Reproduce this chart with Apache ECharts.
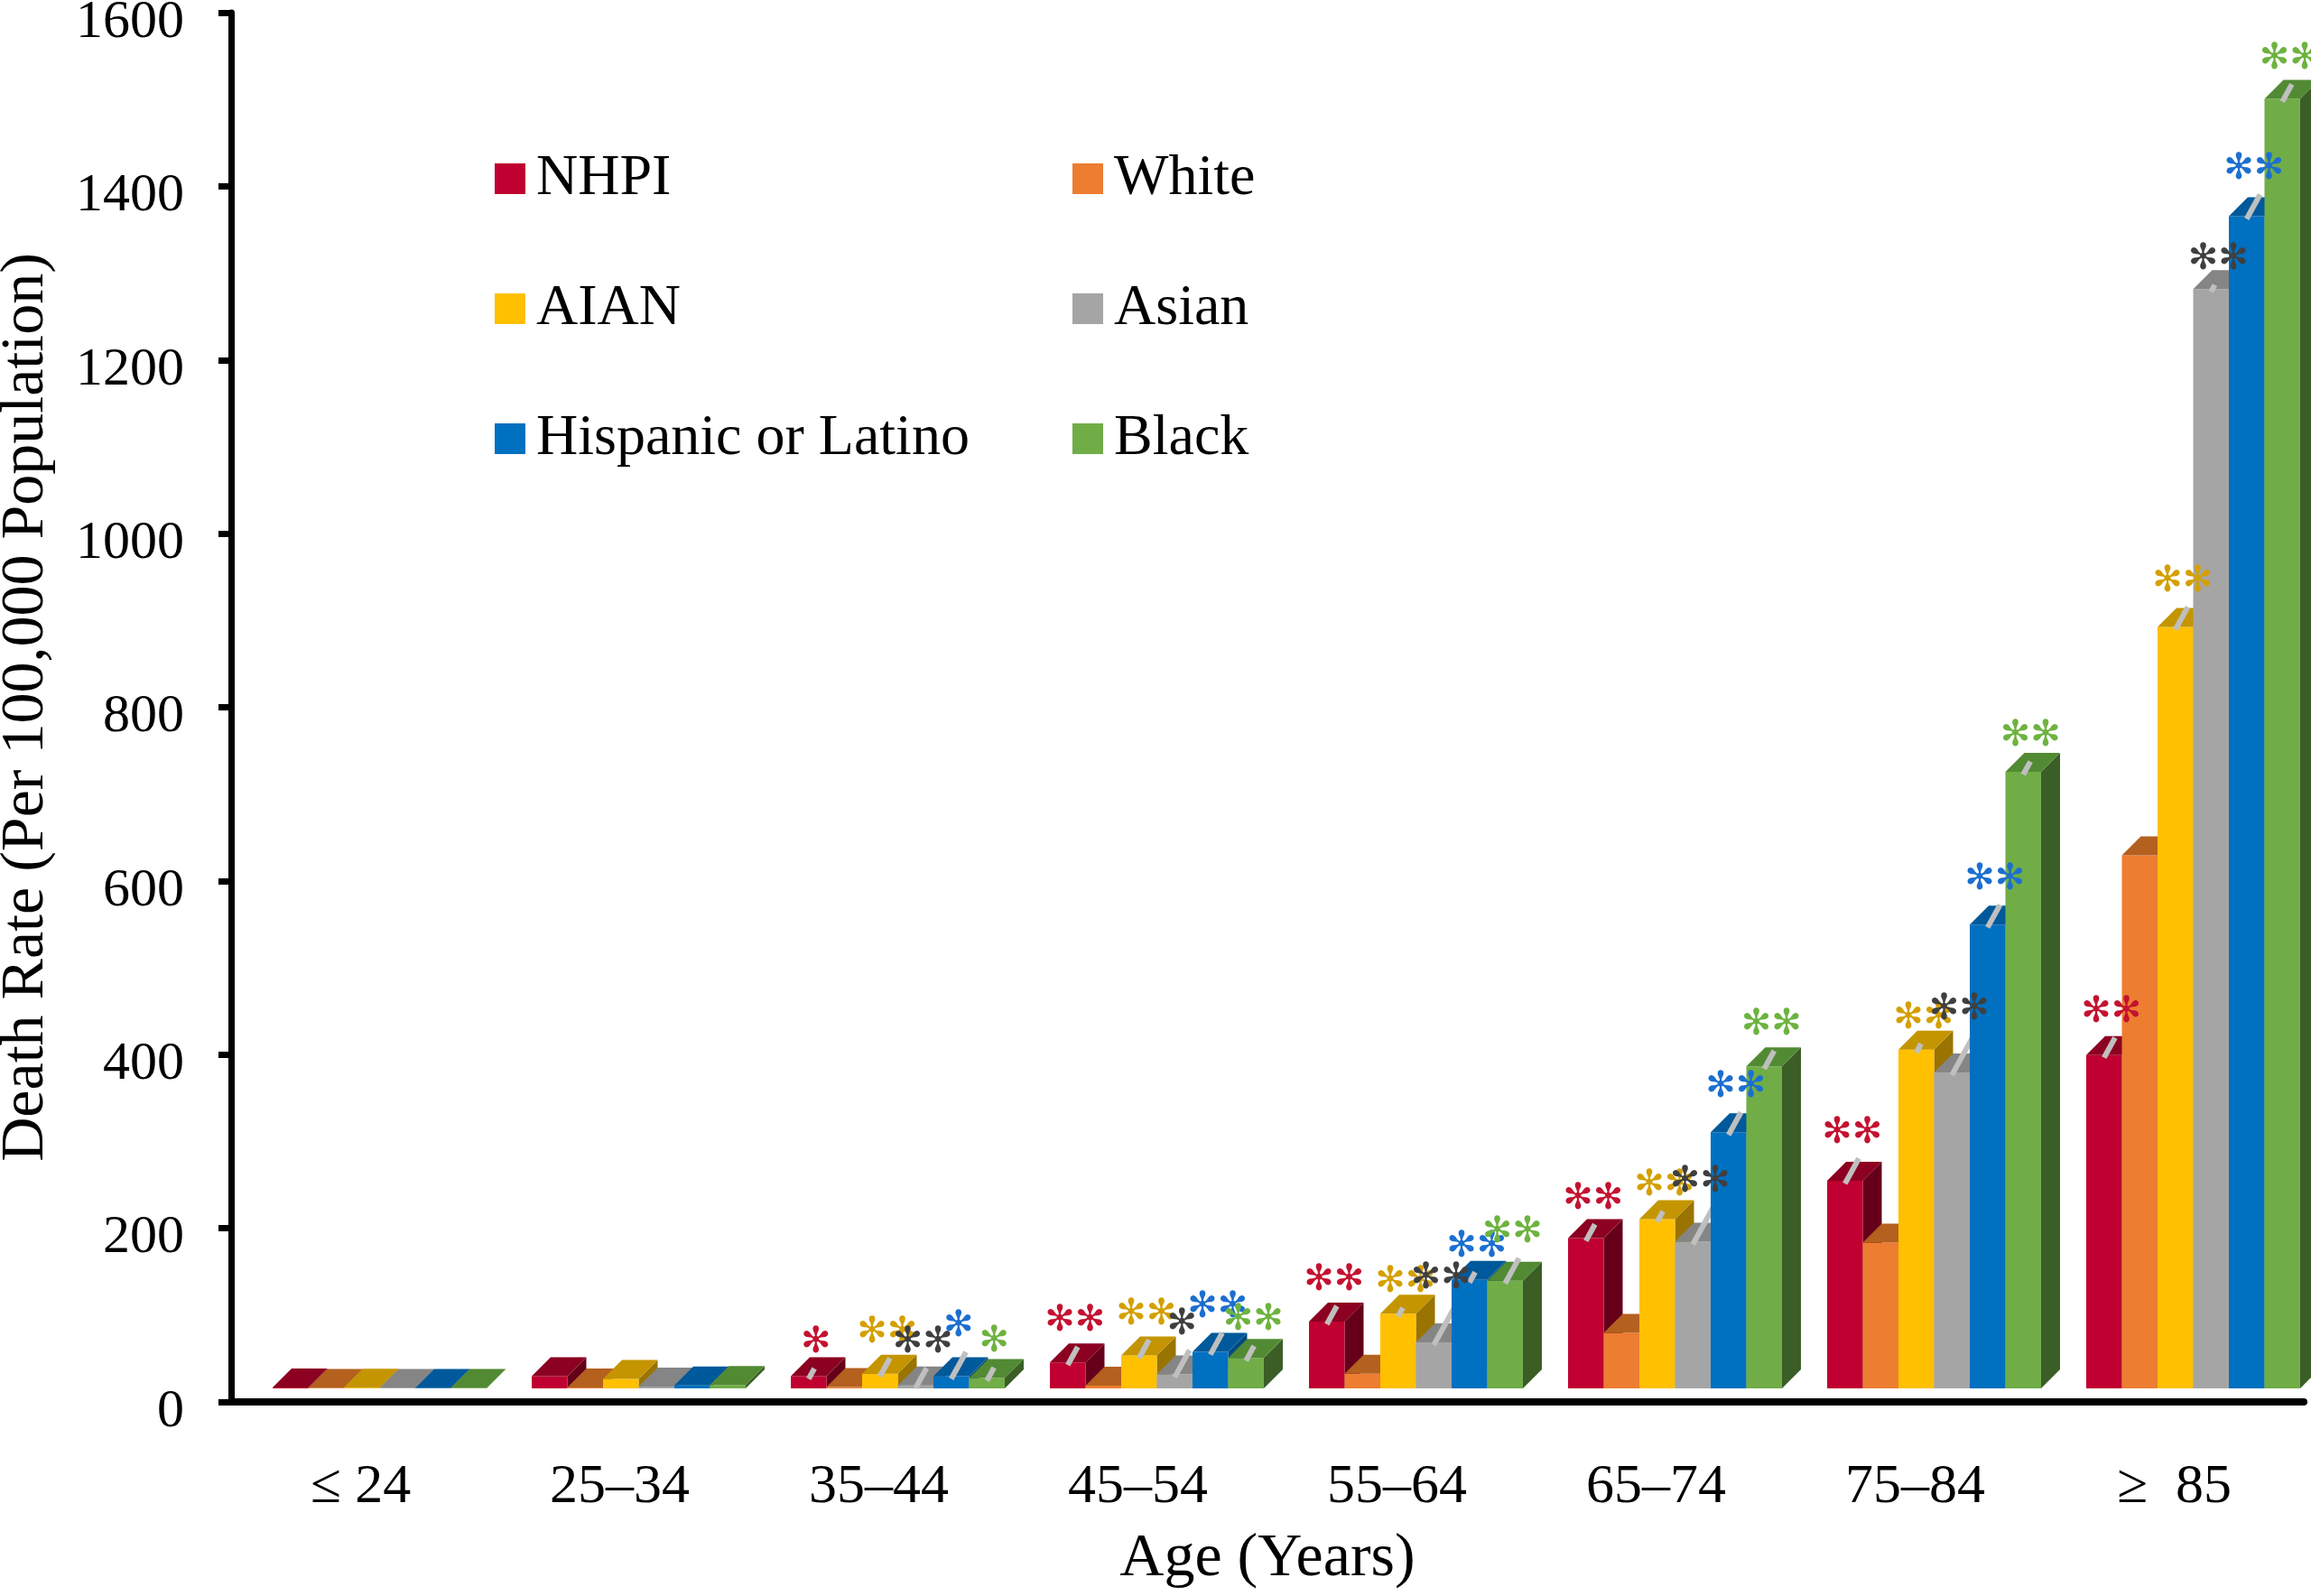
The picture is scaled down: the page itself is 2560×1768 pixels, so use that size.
<!DOCTYPE html>
<html>
<head>
<meta charset="utf-8">
<script src="https://cdn.jsdelivr.net/npm/echarts@6/dist/echarts.min.js"></script>
<style>
  html, body { margin: 0; padding: 0; background: #fff; }
  #chart { width: 2560px; height: 1768px; }
</style>
</head>
<body>
<div id="chart"></div>
<script>
// ---------------- DATA ----------------
const categories = ['≤ 24', '25–34', '35–44', '45–54', '55–64', '65–74', '75–84', '≥  85'];
const seriesNames = ['NHPI', 'White', 'AIAN', 'Asian', 'Hispanic or Latino', 'Black'];

// Death rate per 100,000 population
const nhpi     = [1,   14,  14,  30,  77, 173, 239,  384];
const white    = [0.5,  1, 1.5,   3,  17,  64, 168,  614];
const aian     = [0.8, 11,  17,  38,  86, 195, 390,  877];
const asian    = [0.4,  2, 3.5,  16,  53, 169, 364, 1266];
const hispanic = [0.6, 3.5, 14,  42, 125, 295, 534, 1350];
const black    = [0.5,  4,  12,  35, 124, 371, 710, 1485];

// upper error (visible part of error bar), same units
const nhpiErr     = [0, 0, 12, 21, 21, 19, 29, 23];
const whiteErr    = [0, 0, 0, 0, 0, 0, 0, 0];
const aianErr     = [0, 0, 21, 21, 10, 12, 10, 26];
const asianErr    = [0, 0, 23, 31, 47, 42, 46, 8];
const hispanicErr = [0, 0, 31, 25, 12, 26, 26, 28];
const blackErr    = [0, 0, 15, 17, 29, 21, 15, 20];

// significance marks
const nhpiSig     = ['', '', '*',  '**', '**', '**', '**', '**'];
const whiteSig    = ['', '', '',   '',   '',   '',   '',   ''];
const aianSig     = ['', '', '**', '**', '**', '**', '**', '**'];
const asianSig    = ['', '', '**', '*',  '**', '**', '**', '**'];
const hispanicSig = ['', '', '*',  '**', '**', '**', '**', '**'];
const blackSig    = ['', '', '*',  '**', '**', '**', '**', '**'];

const yMin = 0, yMax = 1600, yInterval = 200;

// ---------------- STYLE ----------------
const FONT = '"Liberation Serif", "Times New Roman", serif';
const STAR_FONT = '"DejaVu Sans", sans-serif';
const values = [nhpi, white, aian, asian, hispanic, black];
const errs = [nhpiErr, whiteErr, aianErr, asianErr, hispanicErr, blackErr];
const sigs = [nhpiSig, whiteSig, aianSig, asianSig, hispanicSig, blackSig];
const frontColors = ['#BF0030', '#ED7D31', '#FFC000', '#A5A5A5', '#0070C0', '#70AD47'];
const topColors   = ['#8C0021', '#B4601F', '#C49500', '#858585', '#00599A', '#528A33'];
const sideColors  = ['#66001A', '#9C4E17', '#9A7400', '#6B6B6B', '#004A80', '#3A5E26'];
const sigColors   = ['#C41230', '#ED7D31', '#D4A000', '#3F3F3F', '#1C6FD0', '#6DB33F'];
const DEPTH = 21;       // px, 3D depth offset
const LIFT = 15;        // px, floor lift above axis line
const BAR_FRAC = 0.1376; // bar width as fraction of category band

function geom(sIdx, api) {
  const i = api.value(0), v = api.value(1), e = api.value(2);
  const p0 = api.coord([i, 0]);
  const p1 = api.coord([i, v]);
  const pe = api.coord([i, v + e]);
  const band = api.size([1, 0])[0];
  const w = band * BAR_FRAC;
  const xL = p0[0] + DEPTH - 3 * w + sIdx * w;
  const yB = p0[1] - LIFT;
  const yT = p1[1] - LIFT;
  const L = p1[1] - pe[1];
  return { i, v, e, w, xL, yB, yT, L };
}

function barRender(sIdx) {
  return function (params, api) {
    const g = geom(sIdx, api);
    const { w, xL, yB, yT, L } = g;
    const d = DEPTH;
    const children = [
      { type: 'polygon', shape: { points: [[xL + w, yT], [xL + w + d, yT - d], [xL + w + d, yB - d], [xL + w, yB]] },
        style: { fill: sideColors[sIdx] } },
      { type: 'rect', shape: { x: xL, y: yT, width: w, height: Math.max(yB - yT, 0) },
        style: { fill: frontColors[sIdx] } },
      { type: 'polygon', shape: { points: [[xL, yT], [xL + w, yT], [xL + w + d, yT - d], [xL + d, yT - d]] },
        style: { fill: topColors[sIdx] } }
    ];
    if (g.e > 0) {
      const cx = xL + w / 2;
      children.push({ type: 'line', shape: { x1: cx, y1: yT + 3, x2: cx + 0.55 * L, y2: yT + 3 - L },
        style: { stroke: '#BFBFBF', lineWidth: 6 } });
    }
    return { type: 'group', children };
  };
}

function sigRender(sIdx) {
  return function (params, api) {
    const g = geom(sIdx, api);
    const raw = sigs[sIdx][params.dataIndex];
    if (!raw) return { type: 'group', children: [] };
    const txt = raw.replace(/\*/g, '\u273B');
    const cx = g.xL + g.w / 2 + 8;
    const cy = g.yT - g.L - 25;
    return { type: 'text', style: { text: txt, x: cx, y: cy, fill: sigColors[sIdx],
      font: 'bold 40px ' + STAR_FONT, align: 'center', verticalAlign: 'middle' } };
  };
}

const series = [];
seriesNames.forEach((name, s) => {
  const data = values[s].map((v, i) => [i, v, errs[s][i]]);
  series.push({
    name, type: 'custom', renderItem: barRender(s), data, z: 2,
    itemStyle: { color: frontColors[s] },
    encode: { x: 0, y: 1 }, clip: false
  });
});
seriesNames.forEach((name, s) => {
  const data = values[s].map((v, i) => [i, v, errs[s][i]]);
  series.push({
    name: name + ' sig', type: 'custom', renderItem: sigRender(s), data, z: 5,
    encode: { x: 0, y: 1 }, clip: false, silent: true
  });
});

const legendCommon = {
  orient: 'vertical', icon: 'rect', itemWidth: 34, itemHeight: 34, itemGap: 80,
  selectedMode: false, top: 161,
  textStyle: { fontFamily: FONT, fontSize: 64, color: '#000', lineHeight: 64, padding: [0, 0, 0, 7] }
};

const chart = echarts.init(document.getElementById('chart'), null, { renderer: 'canvas' });
chart.setOption({
  animation: false,
  backgroundColor: '#fff',
  color: frontColors,
  textStyle: { fontFamily: FONT },
  legend: [
    Object.assign({}, legendCommon, { left: 543, data: ['NHPI', 'AIAN', 'Hispanic or Latino'] }),
    Object.assign({}, legendCommon, { left: 1183, data: ['White', 'Asian', 'Black'] })
  ],
  grid: { left: 256, right: 8, top: 14, bottom: 215, containLabel: false, outerBoundsMode: 'none' },
  xAxis: {
    type: 'category', data: categories, boundaryGap: true,
    name: 'Age (Years)', nameLocation: 'middle', nameGap: 140,
    nameTextStyle: { fontFamily: FONT, fontSize: 68, color: '#000' },
    axisLine: { lineStyle: { color: '#000', width: 8 } },
    axisTick: { show: false },
    axisLabel: { fontFamily: FONT, fontSize: 62, color: '#000', margin: 64, interval: 0 },
    splitLine: { show: false }
  },
  yAxis: {
    type: 'value', min: yMin, max: yMax, interval: yInterval,
    name: 'Death Rate (Per 100,000 Population)', nameLocation: 'middle', nameGap: 193,
    nameTextStyle: { fontFamily: FONT, fontSize: 68, color: '#000' },
    axisLine: { show: true, lineStyle: { color: '#000', width: 7 } },
    axisTick: { show: true, length: 14, lineStyle: { color: '#000', width: 7 } },
    axisLabel: { fontFamily: FONT, fontSize: 60, color: '#000', margin: 52,
      verticalAlign: 'top', lineHeight: 22, formatter: (v) => String(v) },
    splitLine: { show: false }
  },
  series
});
</script>
</body>
</html>
